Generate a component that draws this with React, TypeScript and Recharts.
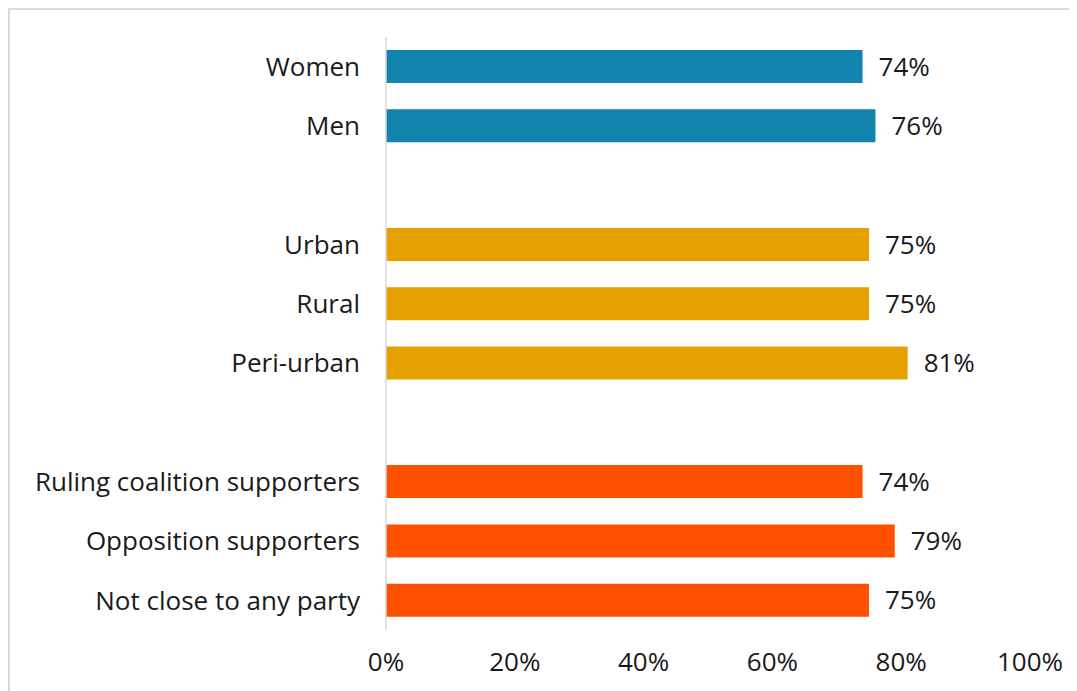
import { BarChart, Bar, XAxis, YAxis, Cell, LabelList } from 'recharts'

// blank entries are spacer rows between the groups
const categories = [
  'Women',
  'Men',
  ' ',
  'Urban',
  'Rural',
  'Peri-urban',
  '  ',
  'Ruling coalition supporters',
  'Opposition supporters',
  'Not close to any party',
]
const values: (number | null)[] = [74, 76, null, 75, 75, 81, null, 74, 79, 75]
const groups = ['gender', 'gender', '', 'location', 'location', 'location', '', 'party', 'party', 'party']
const xTicks = [0, 20, 40, 60, 80, 100]

const groupColors: Record<string, string> = {
  gender: '#1185ad',
  location: '#e6a000',
  party: '#ff5100',
}

const data = categories.map((name, i) => ({ name, value: values[i], group: groups[i] }))

const font = '"Open Sans", sans-serif'
const textStyle = { fontSize: 26, fill: '#1a1a1a', fontFamily: font }

export default function App() {
  return (
    <div style={{ borderTop: '2px solid #d9d9d9', borderLeft: '2px solid #d9d9d9', width: 1067, height: 681, fontFamily: font }}>
      <BarChart
        width={1067}
        height={681}
        data={data}
        layout="vertical"
        margin={{ top: 27, right: 47, left: 0, bottom: 21 }}
        barSize={33}
      >
        <XAxis
          type="number"
          domain={[0, 100]}
          ticks={xTicks}
          tickFormatter={(v: number) => `${v}%`}
          axisLine={false}
          tickLine={false}
          tickSize={0}
          tickMargin={23}
          height={40}
          tick={textStyle}
        />
        <YAxis
          type="category"
          dataKey="name"
          width={376}
          axisLine={{ stroke: '#d9d9d9', strokeWidth: 1.5 }}
          tickLine={false}
          tickSize={0}
          tickMargin={26}
          interval={0}
          tick={textStyle}
        />
        <Bar dataKey="value" isAnimationActive={false}>
          {data.map((d, i) => (
            <Cell key={i} fill={groupColors[d.group] ?? 'transparent'} />
          ))}
          <LabelList
            dataKey="value"
            position="right"
            offset={16}
            formatter={(v: number | null) => (v == null ? '' : `${v}%`)}
            style={textStyle}
          />
        </Bar>
      </BarChart>
    </div>
  )
}
